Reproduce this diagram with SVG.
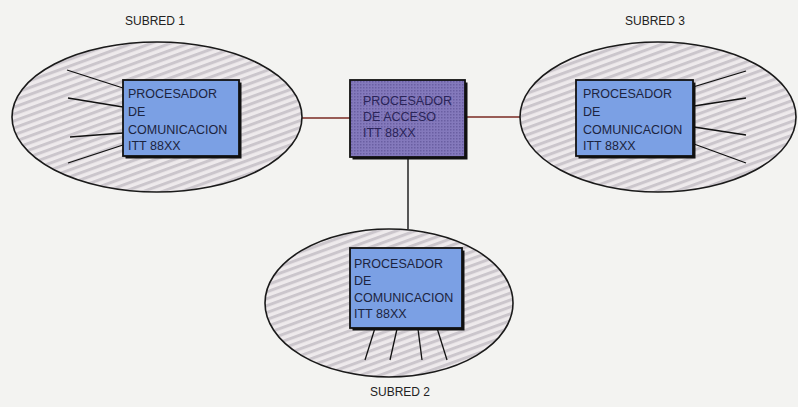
<svg xmlns="http://www.w3.org/2000/svg" width="798" height="407" viewBox="0 0 798 407">
<style>
.lbl{font-family:"Liberation Sans",Arial,sans-serif;font-size:12px;fill:#222}
.bt{font-family:"Liberation Sans",Arial,sans-serif;font-size:12.5px;fill:#1c2440}
.at{font-family:"Liberation Sans",Arial,sans-serif;font-size:12.5px;fill:#2a2458}
.ell{fill:url(#hatch);stroke:#1a1a1a;stroke-width:1.6}
.box{fill:#7ba0e4;stroke:#111;stroke-width:1.8}
.shadow{fill:#111}
.abox{fill:url(#dots);stroke:#111;stroke-width:1.8}
.ray{stroke:#111;stroke-width:1.3;fill:none}
.conn{stroke:#7a2a22;stroke-width:1.3;fill:none}
.vconn{stroke:#222;stroke-width:1.5;fill:none}
</style>
<defs>
<pattern id="hatch" width="6.5" height="6.5" patternUnits="userSpaceOnUse" patternTransform="rotate(-20)">
<rect width="6.5" height="6.5" fill="#eeeaec"/>
<rect width="6.5" height="3" fill="#cbc6cc"/>
</pattern>
<pattern id="dots" width="3" height="3" patternUnits="userSpaceOnUse">
<rect width="3" height="3" fill="#8479bc"/>
<rect width="1.5" height="1.5" fill="#6a5fa2"/>
</pattern>
</defs>
<rect width="798" height="407" fill="#f3f3f1"/>
<g id="connectors">
<line class="conn" x1="301" y1="118" x2="350" y2="118"/>
<line class="conn" x1="465" y1="117" x2="521" y2="117"/>
<line class="vconn" x1="408" y1="157" x2="408" y2="229"/>
</g>
<g id="subred1">
<text class="lbl" x="155" y="25" text-anchor="middle">SUBRED 1</text>
<ellipse class="ell" cx="157" cy="117" rx="145" ry="75"/>
<line class="ray" x1="67" y1="70" x2="123" y2="88"/>
<line class="ray" x1="68" y1="98" x2="123" y2="107"/>
<line class="ray" x1="70" y1="137" x2="123" y2="133"/>
<line class="ray" x1="68" y1="163" x2="123" y2="145"/>
<rect class="shadow" x="125.5" y="82.5" width="116" height="76"/>
<rect class="box" x="123" y="80" width="116" height="76"/>
<text class="bt" x="128" y="98">PROCESADOR</text>
<text class="bt" x="128" y="116">DE</text>
<text class="bt" x="128" y="134">COMUNICACION</text>
<text class="bt" x="128" y="150">ITT 88XX</text>
</g>
<g id="acceso">
<rect class="shadow" x="352.5" y="82.5" width="115" height="77"/>
<rect class="abox" x="350" y="80" width="115" height="77"/>
<text class="at" x="363" y="105">PROCESADOR</text>
<text class="at" x="363" y="121">DE ACCESO</text>
<text class="at" x="363" y="137">ITT 88XX</text>
</g>
<g id="subred3">
<text class="lbl" x="655" y="25" text-anchor="middle">SUBRED 3</text>
<ellipse class="ell" cx="658" cy="117" rx="138" ry="75"/>
<line class="ray" x1="693" y1="87" x2="746" y2="71"/>
<line class="ray" x1="694" y1="106" x2="746" y2="98"/>
<line class="ray" x1="694" y1="127" x2="746" y2="135"/>
<line class="ray" x1="694" y1="144" x2="746" y2="163"/>
<rect class="shadow" x="578.5" y="82.5" width="117" height="76"/>
<rect class="box" x="576" y="80" width="117" height="76"/>
<text class="bt" x="583" y="98">PROCESADOR</text>
<text class="bt" x="583" y="116">DE</text>
<text class="bt" x="583" y="134">COMUNICACION</text>
<text class="bt" x="583" y="150">ITT 88XX</text>
</g>
<g id="subred2">
<ellipse class="ell" cx="389" cy="303" rx="124" ry="74"/>
<line class="ray" x1="375" y1="328" x2="365" y2="360"/>
<line class="ray" x1="397" y1="329" x2="390" y2="360"/>
<line class="ray" x1="418" y1="329" x2="422" y2="360"/>
<line class="ray" x1="437" y1="328" x2="447" y2="360"/>
<rect class="shadow" x="352.5" y="250.5" width="112" height="80"/>
<rect class="box" x="350" y="248" width="112" height="80"/>
<text class="bt" x="354" y="268">PROCESADOR</text>
<text class="bt" x="354" y="285">DE</text>
<text class="bt" x="354" y="302">COMUNICACION</text>
<text class="bt" x="354" y="318">ITT 88XX</text>
<text class="lbl" x="400" y="396" text-anchor="middle">SUBRED 2</text>
</g>
</svg>
